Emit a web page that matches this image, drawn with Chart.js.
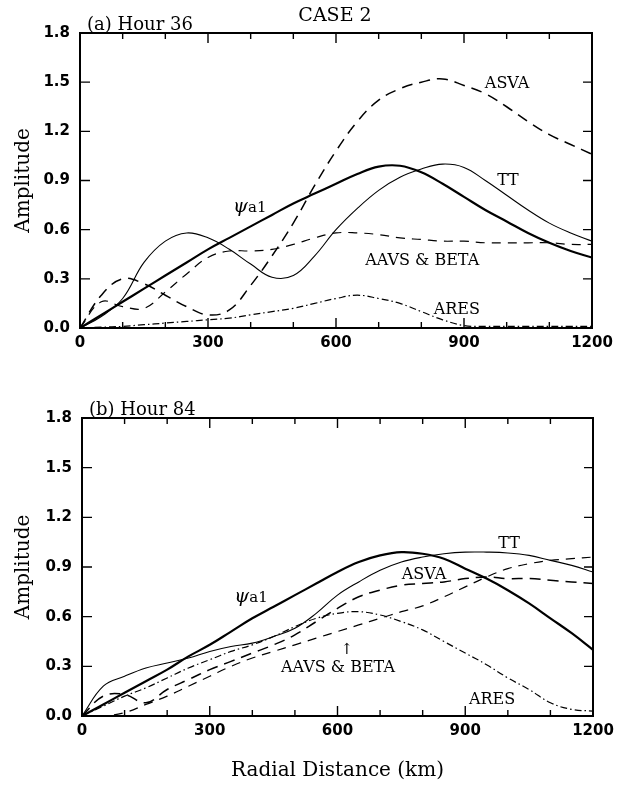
<!DOCTYPE html>
<html>
<head>
<meta charset="utf-8">
<script src="https://cdn.jsdelivr.net/npm/chart.js@4.4.1/dist/chart.umd.min.js"></script>
<style>
html, body { margin: 0; padding: 0; background: #fff; }
#wrap { position: relative; width: 624px; height: 786px; }
#wrap canvas { position: absolute; left: 0; }
</style>
</head>
<body>
<div id="wrap">
  <canvas id="chartA" width="624" height="360" style="top:0"></canvas>
  <canvas id="chartB" width="624" height="401" style="top:385px"></canvas>
</div>
<script>
// radial distance (km) for every sample
const distKm = [0, 50, 100, 150, 200, 250, 300, 350, 400, 450, 500, 550, 600,
                650, 700, 750, 800, 850, 900, 950, 1000, 1050, 1100, 1150, 1200];
const distTicks = [0, 300, 600, 900, 1200];
const ampTicks = [0, 0.3, 0.6, 0.9, 1.2, 1.5, 1.8];

// (a) hour 36
const psiA  = [0, 0.08, 0.16, 0.24, 0.32, 0.40, 0.48, 0.55, 0.62, 0.69, 0.76, 0.82, 0.88,
               0.94, 0.985, 0.99, 0.95, 0.88, 0.80, 0.72, 0.65, 0.58, 0.52, 0.47, 0.43];
const ttA   = [0, 0.07, 0.18, 0.40, 0.53, 0.58, 0.55, 0.48, 0.39, 0.31, 0.32, 0.44, 0.60,
               0.73, 0.84, 0.92, 0.97, 1.0, 0.98, 0.90, 0.81, 0.72, 0.64, 0.58, 0.53];
const asvaA = [0, 0.2, 0.3, 0.27, 0.2, 0.13, 0.08, 0.11, 0.26, 0.44, 0.64, 0.87, 1.08,
               1.26, 1.39, 1.46, 1.50, 1.52, 1.48, 1.43, 1.35, 1.26, 1.18, 1.12, 1.06];
const aavsA = [0, 0.16, 0.13, 0.12, 0.22, 0.33, 0.43, 0.47, 0.47, 0.48, 0.51, 0.55, 0.58,
               0.58, 0.57, 0.55, 0.54, 0.53, 0.53, 0.52, 0.52, 0.52, 0.52, 0.51, 0.51];
const aresA = [0, 0.005, 0.01, 0.02, 0.03, 0.04, 0.05, 0.06, 0.08, 0.10, 0.12, 0.15, 0.18,
               0.20, 0.18, 0.15, 0.10, 0.05, 0.015, 0.01, 0.01, 0.01, 0.01, 0.01, 0.01];

// (b) hour 84
const psiB  = [0, 0.07, 0.14, 0.21, 0.28, 0.36, 0.43, 0.51, 0.59, 0.66, 0.73, 0.80, 0.87,
               0.93, 0.97, 0.99, 0.98, 0.95, 0.89, 0.83, 0.76, 0.68, 0.59, 0.50, 0.40];
const ttB   = [0, 0.18, 0.24, 0.29, 0.32, 0.35, 0.39, 0.42, 0.44, 0.48, 0.53, 0.62, 0.73,
               0.81, 0.88, 0.93, 0.96, 0.98, 0.99, 0.99, 0.985, 0.97, 0.94, 0.91, 0.87];
const asvaB = [0, 0.12, 0.13, 0.08, 0.16, 0.22, 0.28, 0.33, 0.38, 0.43, 0.49, 0.57, 0.65,
               0.72, 0.76, 0.79, 0.80, 0.81, 0.83, 0.84, 0.83, 0.83, 0.82, 0.81, 0.80];
const aavsB = [0, 0.0, 0.02, 0.07, 0.12, 0.18, 0.24, 0.30, 0.35, 0.39, 0.43, 0.47, 0.51,
               0.55, 0.59, 0.63, 0.665, 0.72, 0.78, 0.84, 0.89, 0.92, 0.94, 0.95, 0.96];
const aresB = [0, 0.06, 0.12, 0.17, 0.23, 0.29, 0.34, 0.39, 0.43, 0.48, 0.54, 0.59, 0.62,
               0.63, 0.61, 0.57, 0.52, 0.45, 0.38, 0.31, 0.23, 0.16, 0.08, 0.04, 0.03];

const serif = '"DejaVu Serif", "Liberation Serif", serif';
const sans = '"DejaVu Sans", sans-serif';

const pts = vals => distKm.map((d, i) => ({ x: d, y: vals[i] }));

function line(vals, width, dash) {
    return {
        data: pts(vals),
        borderColor: "#000",
        borderWidth: width,
        borderDash: dash,
        pointRadius: 0,
        fill: false,
        tension: 0.4,
    };
}

// box, inward ticks, curve labels and panel headings
const frame = {
    id: "frame",
    afterDatasetsDraw(chart, args, opts) {
        const { ctx, chartArea: a, scales: { x, y } } = chart;
        ctx.save();
        ctx.strokeStyle = "#000";
        ctx.fillStyle = "#000";
        ctx.lineWidth = 2;
        ctx.strokeRect(a.left, a.top, a.right - a.left, a.bottom - a.top);
        ctx.lineWidth = 1.4;
        ctx.beginPath();
        for (let v = 0; v <= 1200; v += 100) {
            const px = x.getPixelForValue(v);
            const len = v % 300 === 0 ? 10 : 6;
            ctx.moveTo(px, a.bottom); ctx.lineTo(px, a.bottom - len);
            ctx.moveTo(px, a.top); ctx.lineTo(px, a.top + len);
        }
        ampTicks.forEach(v => {
            const py = y.getPixelForValue(v);
            ctx.moveTo(a.left, py); ctx.lineTo(a.left + 10, py);
            ctx.moveTo(a.right, py); ctx.lineTo(a.right - 9, py);
        });
        ctx.stroke();

        ctx.textAlign = "center";
        ctx.textBaseline = "middle";
        opts.labels.forEach(l => {
            const px = x.getPixelForValue(l.x);
            const py = y.getPixelForValue(l.y);
            if (l.psi) {
                ctx.font = "italic 19px " + serif;
                ctx.textAlign = "right";
                ctx.fillText("\u03c8", px - 4, py);
                ctx.font = "15px " + serif;
                ctx.textAlign = "left";
                ctx.fillText("a1", px - 4, py + 1);
                ctx.textAlign = "center";
            } else {
                ctx.font = (l.size || 16) + "px " + serif;
                ctx.fillText(l.text, px, py);
            }
        });

        ctx.textAlign = "left";
        ctx.textBaseline = "alphabetic";
        ctx.font = "18px " + serif;
        ctx.fillText(opts.panel, a.left + 7, a.top - 3);
        if (opts.title) {
            ctx.textAlign = "center";
            ctx.font = "19px " + serif;
            ctx.fillText(opts.title, 335, 21);
        }
        ctx.restore();
    },
};

function makeChart(id, series, o) {
    return new Chart(document.getElementById(id), {
        type: "line",
        data: {
            datasets: [
                line(series[0], 2.2, []),
                line(series[1], 1.1, []),
                line(series[2], 1.5, [11, 7]),
                line(series[3], 1.2, [9, 7]),
                line(series[4], 1.2, [7, 3, 1.5, 3]),
            ],
        },
        options: {
            responsive: false,
            animation: false,
            layout: { padding: { top: 33, right: o.right, left: 0, bottom: 0 } },
            plugins: {
                legend: { display: false },
                tooltip: { enabled: false },
                frame: { labels: o.labels, panel: o.panel, title: o.title },
            },
            scales: {
                x: {
                    type: "linear",
                    min: 0,
                    max: 1200,
                    grid: { display: false, drawTicks: false },
                    border: { display: false },
                    afterBuildTicks: s => { s.ticks = distTicks.map(v => ({ value: v })); },
                    afterFit: s => { s.height = o.xh; },
                    ticks: {
                        color: "#000",
                        padding: 6,
                        font: { family: sans, size: 15, weight: "bold" },
                        maxRotation: 0,
                        callback: v => String(v),
                    },
                    title: {
                        display: !!o.xtitle,
                        text: o.xtitle,
                        color: "#000",
                        font: { family: serif, size: 20 },
                        padding: { top: 0, bottom: 3 },
                    },
                },
                y: {
                    min: 0,
                    max: 1.8,
                    grid: { display: false, drawTicks: false },
                    border: { display: false },
                    afterBuildTicks: s => { s.ticks = ampTicks.map(v => ({ value: v })); },
                    afterFit: s => { s.width = o.yw; },
                    ticks: {
                        color: "#000",
                        padding: 10,
                        font: { family: sans, size: 15, weight: "bold" },
                        callback: v => v.toFixed(1),
                    },
                    title: {
                        display: true,
                        text: "Amplitude",
                        color: "#000",
                        font: { family: serif, size: 20 },
                        padding: { top: 12, bottom: 0 },
                    },
                },
            },
        },
        plugins: [frame],
    });
}

makeChart("chartA", [psiA, ttA, asvaA, aavsA, aresA], {
    right: 32, yw: 80, xh: 32,
    panel: "(a) Hour 36",
    title: "CASE 2",
    labels: [
        { text: "ASVA", x: 1001, y: 1.49 },
        { text: "TT", x: 1003, y: 0.90 },
        { psi: true, x: 403, y: 0.74 },
        { text: "AAVS & BETA", x: 802, y: 0.41 },
        { text: "ARES", x: 883, y: 0.11 },
    ],
});

makeChart("chartB", [psiB, ttB, asvaB, aavsB, aresB], {
    right: 31, yw: 82, xh: 70,
    panel: "(b) Hour 84",
    xtitle: "Radial Distance (km)",
    labels: [
        { text: "TT", x: 1003, y: 1.04 },
        { text: "ASVA", x: 803, y: 0.85 },
        { psi: true, x: 402, y: 0.72 },
        { text: "AAVS & BETA", x: 601, y: 0.29 },
        { text: "\u2191", x: 622, y: 0.40, size: 15 },
        { text: "ARES", x: 963, y: 0.10 },
    ],
});
</script>
</body>
</html>
